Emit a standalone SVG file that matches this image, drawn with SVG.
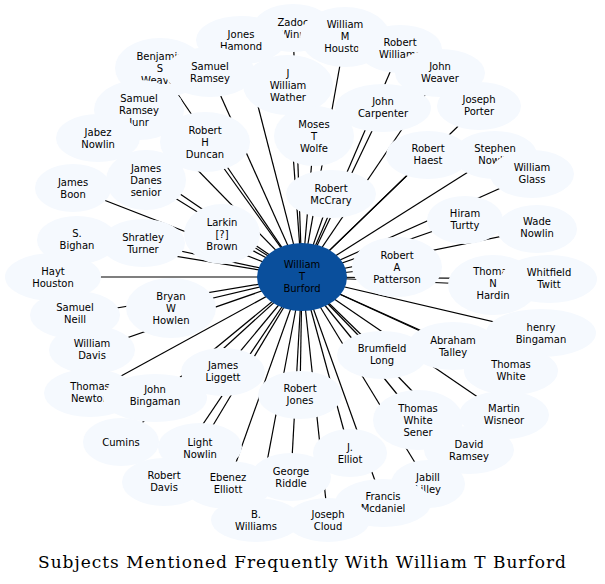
<svg xmlns="http://www.w3.org/2000/svg" width="605" height="584" viewBox="0 0 605 584">
<style>
.n ellipse{fill:#f5f9fe;stroke:none}
text{font-family:"DejaVu Sans",sans-serif;font-size:10px;text-anchor:middle;fill:#000}
#edges line{stroke:#000;stroke-width:1.2}
.t{font-family:"DejaVu Serif",serif;font-size:17px}
</style>
<rect width="605" height="584" fill="#fff"/>
<g id="edges">
<line x1="302" y1="277" x2="293" y2="28"/><line x1="302" y1="277" x2="241" y2="40"/><line x1="302" y1="277" x2="345" y2="37"/><line x1="302" y1="277" x2="400" y2="49"/><line x1="302" y1="277" x2="160" y2="68"/><line x1="302" y1="277" x2="210" y2="72"/><line x1="302" y1="277" x2="288" y2="85"/><line x1="302" y1="277" x2="440" y2="73"/><line x1="302" y1="277" x2="383" y2="108"/><line x1="302" y1="277" x2="479" y2="106"/><line x1="302" y1="277" x2="139" y2="110"/><line x1="302" y1="277" x2="98" y2="138"/><line x1="302" y1="277" x2="205" y2="142"/><line x1="302" y1="277" x2="314" y2="136"/><line x1="302" y1="277" x2="428" y2="155"/><line x1="302" y1="277" x2="495" y2="155"/><line x1="302" y1="277" x2="532" y2="174"/><line x1="302" y1="277" x2="146" y2="180"/><line x1="302" y1="277" x2="73" y2="188"/><line x1="302" y1="277" x2="331" y2="194"/><line x1="302" y1="277" x2="465" y2="220"/><line x1="302" y1="277" x2="537" y2="229"/><line x1="302" y1="277" x2="222" y2="234"/><line x1="302" y1="277" x2="77" y2="240"/><line x1="302" y1="277" x2="143" y2="243"/><line x1="302" y1="277" x2="53" y2="277"/><line x1="302" y1="277" x2="397" y2="267"/><line x1="302" y1="277" x2="493" y2="285"/><line x1="302" y1="277" x2="549" y2="279"/><line x1="302" y1="277" x2="75" y2="315"/><line x1="302" y1="277" x2="171" y2="308"/><line x1="302" y1="277" x2="92" y2="350"/><line x1="302" y1="277" x2="541" y2="333"/><line x1="302" y1="277" x2="453" y2="346"/><line x1="302" y1="277" x2="382" y2="355"/><line x1="302" y1="277" x2="511" y2="371"/><line x1="302" y1="277" x2="223" y2="372"/><line x1="302" y1="277" x2="90" y2="393"/><line x1="302" y1="277" x2="155" y2="398"/><line x1="302" y1="277" x2="300" y2="395"/><line x1="302" y1="277" x2="418" y2="420"/><line x1="302" y1="277" x2="504" y2="415"/><line x1="302" y1="277" x2="121" y2="442"/><line x1="302" y1="277" x2="200" y2="447"/><line x1="302" y1="277" x2="350" y2="453"/><line x1="302" y1="277" x2="469" y2="450"/><line x1="302" y1="277" x2="164" y2="482"/><line x1="302" y1="277" x2="228" y2="485"/><line x1="302" y1="277" x2="291" y2="477"/><line x1="302" y1="277" x2="428" y2="484"/><line x1="302" y1="277" x2="383" y2="503"/><line x1="302" y1="277" x2="256" y2="520"/><line x1="302" y1="277" x2="328" y2="520"/>
</g>
<g id="zadoc" class="n"><ellipse cx="293" cy="28" rx="40" ry="24"/><text x="293" y="26">Zadoc</text><text x="293" y="38">Winn</text></g>
<g id="jones" class="n"><ellipse cx="241" cy="40" rx="45" ry="24"/><text x="241" y="38">Jones</text><text x="241" y="50">Hamond</text></g>
<g id="wmhouston" class="n"><ellipse cx="345" cy="37" rx="45" ry="30"/><text x="345" y="28">William</text><text x="345" y="40">M</text><text x="345" y="52">Houston</text></g>
<g id="rwilliams" class="n"><ellipse cx="400" cy="49" rx="42" ry="24"/><text x="400" y="46">Robert</text><text x="400" y="58">Williams</text></g>
<g id="benjamin" class="n"><ellipse cx="160" cy="68" rx="45" ry="30"/><text x="160" y="60">Benjamin</text><text x="160" y="72">S</text><text x="160" y="84">Weaver</text></g>
<g id="sramsey" class="n"><ellipse cx="210" cy="72" rx="45" ry="25"/><text x="210" y="70">Samuel</text><text x="210" y="82">Ramsey</text></g>
<g id="jwather" class="n"><ellipse cx="288" cy="85" rx="45" ry="30"/><text x="288" y="77">J</text><text x="288" y="89">William</text><text x="288" y="101">Wather</text></g>
<g id="jweaver" class="n"><ellipse cx="440" cy="73" rx="45" ry="24"/><text x="440" y="70">John</text><text x="440" y="82">Weaver</text></g>
<g id="jcarpenter" class="n"><ellipse cx="383" cy="108" rx="48" ry="24"/><text x="383" y="105">John</text><text x="383" y="117">Carpenter</text></g>
<g id="jporter" class="n"><ellipse cx="479" cy="106" rx="42" ry="24"/><text x="479" y="103">Joseph</text><text x="479" y="115">Porter</text></g>
<g id="sramseyjunr" class="n"><ellipse cx="139" cy="110" rx="45" ry="30"/><text x="139" y="102">Samuel</text><text x="139" y="114">Ramsey</text><text x="139" y="126">Junr</text></g>
<g id="jnowlin" class="n"><ellipse cx="98" cy="138" rx="42" ry="24"/><text x="98" y="136">Jabez</text><text x="98" y="148">Nowlin</text></g>
<g id="rduncan" class="n"><ellipse cx="205" cy="142" rx="45" ry="30"/><text x="205" y="134">Robert</text><text x="205" y="146">H</text><text x="205" y="158">Duncan</text></g>
<g id="mwolfe" class="n"><ellipse cx="314" cy="136" rx="40" ry="30"/><text x="314" y="128">Moses</text><text x="314" y="140">T</text><text x="314" y="152">Wolfe</text></g>
<g id="rhaest" class="n"><ellipse cx="428" cy="155" rx="42" ry="24"/><text x="428" y="152">Robert</text><text x="428" y="164">Haest</text></g>
<g id="snowlin" class="n"><ellipse cx="495" cy="155" rx="42" ry="24"/><text x="495" y="152">Stephen</text><text x="495" y="164">Nowlin</text></g>
<g id="wglass" class="n"><ellipse cx="532" cy="174" rx="42" ry="24"/><text x="532" y="171">William</text><text x="532" y="183">Glass</text></g>
<g id="jdanes" class="n"><ellipse cx="146" cy="180" rx="40" ry="30"/><text x="146" y="172">James</text><text x="146" y="184">Danes</text><text x="146" y="196">senior</text></g>
<g id="jboon" class="n"><ellipse cx="73" cy="188" rx="38" ry="24"/><text x="73" y="186">James</text><text x="73" y="198">Boon</text></g>
<g id="rmccrary" class="n"><ellipse cx="331" cy="194" rx="45" ry="24"/><text x="331" y="192">Robert</text><text x="331" y="204">McCrary</text></g>
<g id="hturtty" class="n"><ellipse cx="465" cy="220" rx="38" ry="24"/><text x="465" y="217">Hiram</text><text x="465" y="229">Turtty</text></g>
<g id="wnowlin" class="n"><ellipse cx="537" cy="229" rx="40" ry="24"/><text x="537" y="225">Wade</text><text x="537" y="237">Nowlin</text></g>
<g id="lbrown" class="n"><ellipse cx="222" cy="234" rx="38" ry="30"/><text x="222" y="226">Larkin</text><text x="222" y="238">[?]</text><text x="222" y="250">Brown</text></g>
<g id="sbighan" class="n"><ellipse cx="77" cy="240" rx="40" ry="24"/><text x="77" y="237">S.</text><text x="77" y="249">Bighan</text></g>
<g id="sturner" class="n"><ellipse cx="143" cy="243" rx="42" ry="24"/><text x="143" y="241">Shratley</text><text x="143" y="253">Turner</text></g>
<g id="hhouston" class="n"><ellipse cx="53" cy="277" rx="48" ry="24"/><text x="53" y="275">Hayt</text><text x="53" y="287">Houston</text></g>
<g id="rpatterson" class="n"><ellipse cx="397" cy="267" rx="45" ry="30"/><text x="397" y="259">Robert</text><text x="397" y="271">A</text><text x="397" y="283">Patterson</text></g>
<g id="thardin" class="n"><ellipse cx="493" cy="285" rx="45" ry="30"/><text x="493" y="275">Thomas</text><text x="493" y="287">N</text><text x="493" y="299">Hardin</text></g>
<g id="wtwitt" class="n"><ellipse cx="549" cy="279" rx="48" ry="24"/><text x="549" y="276">Whitfield</text><text x="549" y="288">Twitt</text></g>
<g id="sneill" class="n"><ellipse cx="75" cy="315" rx="45" ry="24"/><text x="75" y="311">Samuel</text><text x="75" y="323">Neill</text></g>
<g id="bhowlen" class="n"><ellipse cx="171" cy="308" rx="45" ry="30"/><text x="171" y="300">Bryan</text><text x="171" y="312">W</text><text x="171" y="324">Howlen</text></g>
<g id="wdavis" class="n"><ellipse cx="92" cy="350" rx="43" ry="24"/><text x="92" y="347">William</text><text x="92" y="359">Davis</text></g>
<g id="hbingaman" class="n"><ellipse cx="541" cy="333" rx="55" ry="24"/><text x="541" y="331">henry</text><text x="541" y="343">Bingaman</text></g>
<g id="atalley" class="n"><ellipse cx="453" cy="346" rx="45" ry="24"/><text x="453" y="344">Abraham</text><text x="453" y="356">Talley</text></g>
<g id="blong" class="n"><ellipse cx="382" cy="355" rx="45" ry="24"/><text x="382" y="352">Brumfield</text><text x="382" y="364">Long</text></g>
<g id="twhite" class="n"><ellipse cx="511" cy="371" rx="47" ry="24"/><text x="511" y="368">Thomas</text><text x="511" y="380">White</text></g>
<g id="jliggett" class="n"><ellipse cx="223" cy="372" rx="42" ry="24"/><text x="223" y="369">James</text><text x="223" y="381">Liggett</text></g>
<g id="tnewton" class="n"><ellipse cx="90" cy="393" rx="46" ry="24"/><text x="90" y="390">Thomas</text><text x="90" y="402">Newton</text></g>
<g id="jbingaman" class="n"><ellipse cx="155" cy="398" rx="52" ry="24"/><text x="155" y="393">John</text><text x="155" y="405">Bingaman</text></g>
<g id="rjones" class="n"><ellipse cx="300" cy="395" rx="42" ry="24"/><text x="300" y="392">Robert</text><text x="300" y="404">Jones</text></g>
<g id="twsener" class="n"><ellipse cx="418" cy="420" rx="45" ry="30"/><text x="418" y="412">Thomas</text><text x="418" y="424">White</text><text x="418" y="436">Sener</text></g>
<g id="mwisneor" class="n"><ellipse cx="504" cy="415" rx="45" ry="24"/><text x="504" y="412">Martin</text><text x="504" y="424">Wisneor</text></g>
<g id="cumins" class="n"><ellipse cx="121" cy="442" rx="38" ry="24"/><text x="121" y="446">Cumins</text></g>
<g id="lnowlin" class="n"><ellipse cx="200" cy="447" rx="42" ry="24"/><text x="200" y="446">Light</text><text x="200" y="458">Nowlin</text></g>
<g id="jelliot" class="n"><ellipse cx="350" cy="453" rx="37" ry="24"/><text x="350" y="451">J.</text><text x="350" y="463">Elliot</text></g>
<g id="dramsey" class="n"><ellipse cx="469" cy="450" rx="45" ry="24"/><text x="469" y="448">David</text><text x="469" y="460">Ramsey</text></g>
<g id="rdavis" class="n"><ellipse cx="164" cy="482" rx="42" ry="24"/><text x="164" y="479">Robert</text><text x="164" y="491">Davis</text></g>
<g id="eelliott" class="n"><ellipse cx="228" cy="485" rx="45" ry="24"/><text x="228" y="481">Ebenez</text><text x="228" y="493">Elliott</text></g>
<g id="griddle" class="n"><ellipse cx="291" cy="477" rx="40" ry="24"/><text x="291" y="475">George</text><text x="291" y="487">Riddle</text></g>
<g id="jlilley" class="n"><ellipse cx="428" cy="484" rx="37" ry="24"/><text x="428" y="481">Jabill</text><text x="428" y="493">Lilley</text></g>
<g id="fmcdaniel" class="n"><ellipse cx="383" cy="503" rx="48" ry="24"/><text x="383" y="500">Francis</text><text x="383" y="512">Mcdaniel</text></g>
<g id="bwilliams" class="n"><ellipse cx="256" cy="520" rx="45" ry="22"/><text x="256" y="518">B.</text><text x="256" y="530">Williams</text></g>
<g id="jcloud" class="n"><ellipse cx="328" cy="520" rx="42" ry="22"/><text x="328" y="518">Joseph</text><text x="328" y="530">Cloud</text></g>
<g id="burford"><ellipse cx="302" cy="277" rx="45" ry="34" fill="#0a4f9c"/><text x="302" y="268">William</text><text x="302" y="280">T</text><text x="302" y="292">Burford</text></g>
<text class="t" x="302" y="568" textLength="528" lengthAdjust="spacing">Subjects Mentioned Frequently With William T Burford</text>
</svg>
